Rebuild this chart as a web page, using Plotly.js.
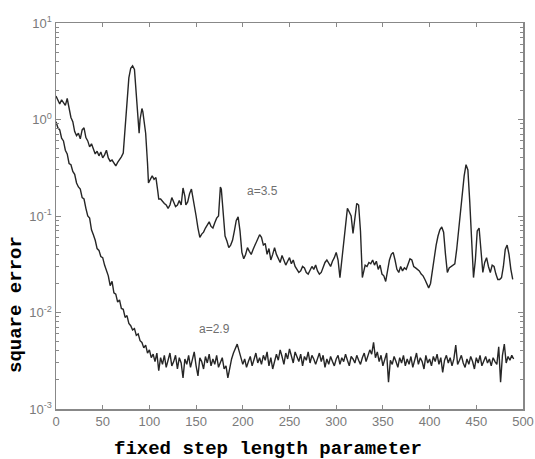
<!DOCTYPE html>
<html>
<head>
<meta charset="utf-8">
<script src="https://cdn.plot.ly/plotly-3.0.1.min.js"></script>
<style>html,body{margin:0;padding:0;background:#fff;}#chart{width:535px;height:459px;}</style>
</head>
<body>
<div id="chart"></div>
<script>
// a = 3.5 curve (upper)
var xUpper = [0,2,4,6,8,10,12,14,16,18,20,22,24,26,28,30,32,34,36,38,40,42,44,46,48,50,52,54,56,58,60,62,64,66,68,70,72,74,76,78,80,82,84,86,88,89,90,92,93,95,96,98,99,101,103,105,107,109,110,112,114,116,118,120,122,124,126,128,130,132,134,136,138,139,141,143,145,147,148,150,152,154,156,158,160,162,164,166,168,170,172,174,176,177,179,181,183,185,187,189,191,193,195,197,199,201,203,205,207,209,211,213,216,218,220,222,224,226,228,230,232,234,236,238,240,242,244,246,248,250,252,254,256,258,260,262,264,266,268,270,272,274,276,278,280,282,284,286,288,290,292,294,296,298,300,302,304,306,308,310,312,314,316,318,320,322,324,326,328,330,331,333,335,337,339,341,343,345,347,349,351,353,355,357,359,361,363,365,367,369,371,373,375,377,379,381,383,385,387,389,391,393,395,397,399,401,403,405,407,409,411,413,415,417,419,421,423,425,427,429,431,433,435,437,439,441,443,445,447,449,451,453,455,457,459,461,463,465,467,469,471,473,475,477,479,481,483,485,487,489];
var yUpper = [1.75,1.6,1.45,1.6,1.5,1.4,1.65,1.3,1.05,0.95,0.75,0.68,0.72,0.63,0.78,0.82,0.65,0.6,0.52,0.56,0.49,0.44,0.47,0.42,0.46,0.4,0.43,0.48,0.4,0.37,0.38,0.35,0.33,0.36,0.38,0.41,0.45,0.8,1.5,2.7,3.4,3.6,3.3,1.7,0.8,0.72,1.0,1.3,1.2,0.9,0.72,0.35,0.22,0.24,0.26,0.24,0.25,0.18,0.15,0.15,0.14,0.135,0.13,0.12,0.13,0.155,0.14,0.125,0.13,0.145,0.13,0.195,0.16,0.13,0.14,0.17,0.19,0.14,0.12,0.1,0.075,0.06,0.065,0.068,0.075,0.08,0.087,0.078,0.075,0.085,0.095,0.1,0.2,0.19,0.1,0.062,0.055,0.047,0.05,0.056,0.07,0.09,0.098,0.07,0.042,0.036,0.04,0.047,0.043,0.04,0.045,0.05,0.058,0.064,0.06,0.05,0.052,0.04,0.046,0.035,0.04,0.047,0.04,0.036,0.033,0.039,0.035,0.031,0.034,0.037,0.032,0.035,0.03,0.028,0.026,0.027,0.03,0.029,0.026,0.025,0.027,0.03,0.028,0.031,0.027,0.025,0.026,0.029,0.033,0.035,0.032,0.03,0.034,0.037,0.042,0.035,0.023,0.035,0.055,0.09,0.12,0.11,0.1,0.066,0.1,0.135,0.13,0.07,0.023,0.028,0.031,0.03,0.033,0.032,0.035,0.031,0.034,0.028,0.031,0.025,0.024,0.021,0.027,0.035,0.04,0.042,0.035,0.028,0.026,0.03,0.027,0.029,0.028,0.032,0.036,0.035,0.03,0.029,0.028,0.027,0.025,0.024,0.022,0.02,0.018,0.02,0.028,0.038,0.05,0.062,0.072,0.077,0.068,0.04,0.026,0.029,0.03,0.031,0.032,0.045,0.07,0.1,0.16,0.26,0.34,0.3,0.14,0.06,0.023,0.035,0.07,0.075,0.045,0.026,0.033,0.037,0.03,0.026,0.031,0.03,0.025,0.022,0.022,0.023,0.03,0.045,0.05,0.04,0.028,0.022];

// a = 2.9 curve (lower), one value every 2 steps from 0 to 490
var lowerStep = 2;
var yLower = [
0.95,0.82,0.78,0.64,0.6,0.48,0.44,0.35,0.34,0.29,
0.27,0.22,0.2,0.19,0.155,0.15,0.12,0.1,0.095,0.072,
0.064,0.056,0.046,0.044,0.038,0.037,0.031,0.027,0.024,0.019,
0.021,0.016,0.0155,0.0128,0.0135,0.011,0.0108,0.0089,0.0093,0.0077,
0.0073,0.0066,0.0068,0.0058,0.006,0.0051,0.0049,0.0043,0.0046,0.0038,
0.0041,0.0034,0.0037,0.0031,0.0038,0.0025,0.0034,0.0029,0.0036,0.0027,
0.0033,0.0038,0.0028,0.0031,0.0036,0.0026,0.0034,0.003,0.0021,0.0033,
0.0029,0.0036,0.0027,0.0032,0.0039,0.0028,0.0022,0.0034,0.0031,0.0026,
0.0035,0.003,0.0037,0.0028,0.0033,0.0029,0.0036,0.0027,0.0031,0.0034,
0.0026,0.0028,0.0021,0.0027,0.0033,0.0038,0.0043,0.0047,0.004,0.0035,
0.0029,0.0033,0.0027,0.0031,0.0035,0.0028,0.0032,0.0038,0.003,0.0034,
0.0029,0.0036,0.0032,0.0039,0.0028,0.0034,0.0026,0.0031,0.0037,0.0032,
0.0041,0.0035,0.0029,0.0038,0.0033,0.0042,0.0036,0.003,0.0039,0.0034,
0.0031,0.0037,0.0028,0.0035,0.0032,0.0039,0.003,0.0036,0.0033,0.0029,
0.0034,0.0038,0.0031,0.0036,0.0027,0.0033,0.0029,0.0035,0.0031,0.0028,
0.0033,0.0036,0.0029,0.0034,0.0031,0.0037,0.0032,0.0028,0.0035,0.0033,
0.003,0.0036,0.0032,0.0029,0.0034,0.0038,0.0031,0.0035,0.0041,0.0037,
0.0049,0.0034,0.0039,0.0031,0.0036,0.0028,0.0033,0.0038,0.0019,0.0032,
0.0029,0.0035,0.0031,0.0027,0.0034,0.003,0.0036,0.0028,0.0033,0.0029,
0.0035,0.0027,0.0032,0.0038,0.0029,0.0034,0.0031,0.0026,0.0036,0.003,
0.0033,0.0028,0.0035,0.0031,0.0037,0.0029,0.0034,0.0024,0.0032,0.0036,
0.003,0.0034,0.0028,0.0033,0.0046,0.0029,0.0032,0.0036,0.003,0.0027,
0.0033,0.0029,0.0035,0.0031,0.0026,0.0034,0.003,0.0036,0.0028,0.0032,
0.0035,0.003,0.0033,0.0028,0.0034,0.0031,0.0029,0.0044,0.0019,0.0036,
0.0047,0.003,0.0035,0.0032,0.0036,0.0033];
var xLower = yLower.map(function(_, i){ return i * lowerStep; });

var xTickVals = [0,50,100,150,200,250,300,350,400,450,500];
var yTickVals = [0.001,0.01,0.1,1,10];
var yTickText = ['10<sup>-3</sup>','10<sup>-2</sup>','10<sup>-1</sup>','10<sup>0</sup>','10<sup>1</sup>'];
var labelUpper = {text:'a=3.5', x:221, y:0.18};
var labelLower = {text:'a=2.9', x:170, y:0.0068};

var minorVals = [];
[0.001,0.01,0.1,1].forEach(function(d){ for (var k=2;k<=9;k++) minorVals.push(d*k); });

var lineStyle = {color:'#262626', width:1.4};
var traces = [
  {x:xUpper, y:yUpper, type:'scatter', mode:'lines', line:lineStyle, hoverinfo:'skip'},
  {x:xLower, y:yLower, type:'scatter', mode:'lines', line:lineStyle, hoverinfo:'skip'}
];

var axisColor = '#888888';
var tickFont = {family:'Liberation Sans, Arial, sans-serif', size:13, color:'#7a7a7a'};
var titleFont = {family:'Liberation Mono, Courier New, monospace', size:19, color:'#000000'};

var layout = {
  width:535, height:459,
  margin:{l:56, r:12, t:23, b:50},
  paper_bgcolor:'#ffffff', plot_bgcolor:'#ffffff',
  showlegend:false,
  xaxis:{
    range:[0,500], tickmode:'array', tickvals:xTickVals,
    ticks:'inside', ticklen:4, tickwidth:1, tickcolor:axisColor,
    showline:true, linecolor:axisColor, linewidth:1.5, mirror:'ticks',
    showgrid:false, zeroline:false, tickfont:tickFont
  },
  yaxis:{
    type:'log', range:[-3,1], tickmode:'array', tickvals:yTickVals, ticktext:yTickText,
    ticks:'inside', ticklen:5, tickwidth:1, tickcolor:axisColor,
    minor:{tickmode:'array', tickvals:minorVals, ticks:'inside', ticklen:3, tickcolor:axisColor, showgrid:false},
    showline:true, linecolor:axisColor, linewidth:1.5, mirror:'ticks',
    showgrid:false, zeroline:false, tickfont:tickFont
  },
  annotations:[
    {x:labelUpper.x, y:Math.log10(labelUpper.y), xref:'x', yref:'y', text:labelUpper.text, showarrow:false,
     font:{family:'Liberation Sans, Arial, sans-serif', size:12, color:'#707070'}},
    {x:labelLower.x, y:Math.log10(labelLower.y), xref:'x', yref:'y', text:labelLower.text, showarrow:false,
     font:{family:'Liberation Sans, Arial, sans-serif', size:12, color:'#707070'}},
    {x:0.453, y:-0.104, xref:'paper', yref:'paper', xanchor:'center', yanchor:'middle',
     text:'<b>fixed step length parameter</b>', showarrow:false, font:titleFont},
    {x:-0.0857, y:0.272, xref:'paper', yref:'paper', xanchor:'center', yanchor:'middle', textangle:-90,
     text:'<b>square error</b>', showarrow:false, font:titleFont}
  ]
};

Plotly.newPlot('chart', traces, layout, {staticPlot:true, displayModeBar:false});
</script>
</body>
</html>
